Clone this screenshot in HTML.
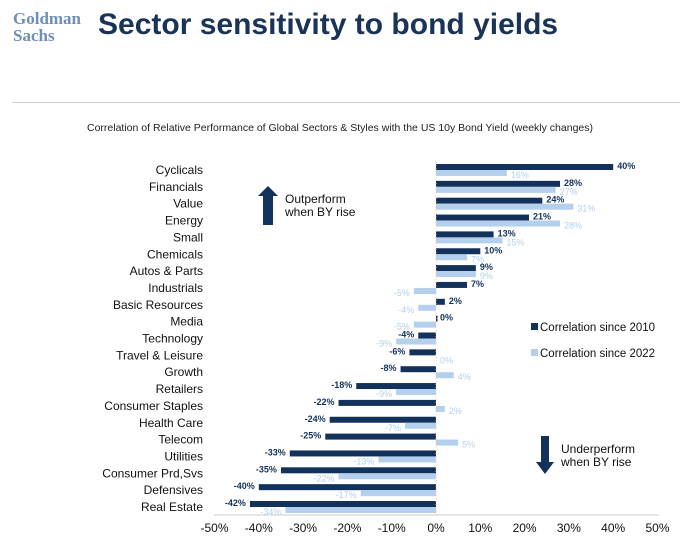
<!DOCTYPE html>
<html><head><meta charset="utf-8"><style>
body{margin:0;background:#fff;font-family:"Liberation Sans",Arial,sans-serif;}
#wrap{position:relative;width:680px;height:548px;overflow:hidden;}
</style></head><body>
<div id="wrap">
<div style="position:absolute;left:13px;top:10px;font-family:'Liberation Serif',serif;color:#6f8fb8;font-size:17px;line-height:17px;font-weight:bold;">Goldman<br>Sachs</div>
<div style="position:absolute;left:98px;top:8px;font-size:30px;font-weight:bold;color:#1a3457;">Sector sensitivity to bond yields</div>
<div style="position:absolute;left:12px;top:102px;width:668px;height:1px;background:#d0d0d0;"></div>
<svg id="chart" width="680" height="548" style="position:absolute;left:0;top:0"></svg>
</div>
<script>
const categories=["Cyclicals","Financials","Value","Energy","Small","Chemicals","Autos & Parts","Industrials","Basic Resources","Media","Technology","Travel & Leisure","Growth","Retailers","Consumer Staples","Health Care","Telecom","Utilities","Consumer Prd,Svs","Defensives","Real Estate"];
const since2010=[40,28,24,21,13,10,9,7,2,0,-4,-6,-8,-18,-22,-24,-25,-33,-35,-40,-42];
const since2022=[16,27,31,28,15,7,9,-5,-4,-5,-9,0,4,-9,2,-7,5,-13,-22,-17,-34];
const ticks=[-50,-40,-30,-20,-10,0,10,20,30,40,50];
const svg=document.getElementById('chart');const NS='http://www.w3.org/2000/svg';
const x=v=>436+v*4.43;const y=i=>170+i*16.85;
function mk(t,a,txt){const e=document.createElementNS(NS,t);for(const k in a)e.setAttribute(k,a[k]);if(txt!==undefined)e.textContent=txt;svg.appendChild(e);return e;}
let e=mk('text',{x:340,y:131,'font-size':'10.5','text-anchor':'middle',fill:'#222'},'Correlation of Relative Performance of Global Sectors & Styles with the US 10y Bond Yield (weekly changes)');


categories.forEach((c,i)=>{
 let t=mk('text',{x:203,y:y(i)+4,'font-size':'12','text-anchor':'end',fill:'#111'},c);
 
 
 const d=since2010[i];
 let r=mk('rect',{x:Math.min(x(0),x(d)),y:y(i)-6,width:Math.max(Math.abs(x(d)-x(0)),d===0?1.5:0),height:6,fill:'#13325b'});
 
 
 let l=mk('text',{x:d>=0?x(d)+4:x(d)-4,y:y(i)-1,'font-size':'9','font-weight':'bold','text-anchor':d>=0?'start':'end',fill:'#13325b'},d+'%');
 
 
 const v=since2022[i];
 let r2=mk('rect',{x:Math.min(x(0),x(v)),y:y(i),width:Math.abs(x(v)-x(0)),height:6,fill:'#b4d0ec'});
 
 
 let l2=mk('text',{x:v>=0?x(v)+4:x(v)-4,y:y(i)+8,'font-size':'9','text-anchor':v>=0?'start':'end',fill:'#b4d0ec'},v+'%');
 
 
});
let ax=mk('line',{x1:214,x2:659,y1:515,y2:515,stroke:'#ccc'});


let zl=mk('line',{x1:436,x2:436,y1:162,y2:515,stroke:'#f3c9a8','stroke-dasharray':'1,2'});


ticks.forEach(t=>{let tl=mk('text',{x:x(t),y:532,'font-size':'12','text-anchor':'middle',fill:'#111'},t+'%');
 
 });
let g1=mk('rect',{x:531,y:323,width:7,height:7,fill:'#13325b'});


let t1=mk('text',{x:540,y:331,'font-size':'11.5',fill:'#111'},'Correlation since 2010');


let g2=mk('rect',{x:531,y:349,width:7,height:7,fill:'#b4d0ec'});


let t2=mk('text',{x:540,y:357,'font-size':'11.5',fill:'#111'},'Correlation since 2022');


let a1=mk('path',{d:'M263,225 L263,196 L258,196 L268,186 L278,196 L273,196 L273,225 Z',fill:'#13325b'});


let o1=mk('text',{x:285,y:203,'font-size':'12',fill:'#111'},'Outperform');


let o2=mk('text',{x:285,y:216,'font-size':'12',fill:'#111'},'when BY rise');


let a2=mk('path',{d:'M541,436 L549,436 L549,462 L554,462 L545,474 L536,462 L541,462 Z',fill:'#13325b'});


let u1=mk('text',{x:561,y:453,'font-size':'12',fill:'#111'},'Underperform');


let u2=mk('text',{x:561,y:466,'font-size':'12',fill:'#111'},'when BY rise');


</script>
</body></html>
